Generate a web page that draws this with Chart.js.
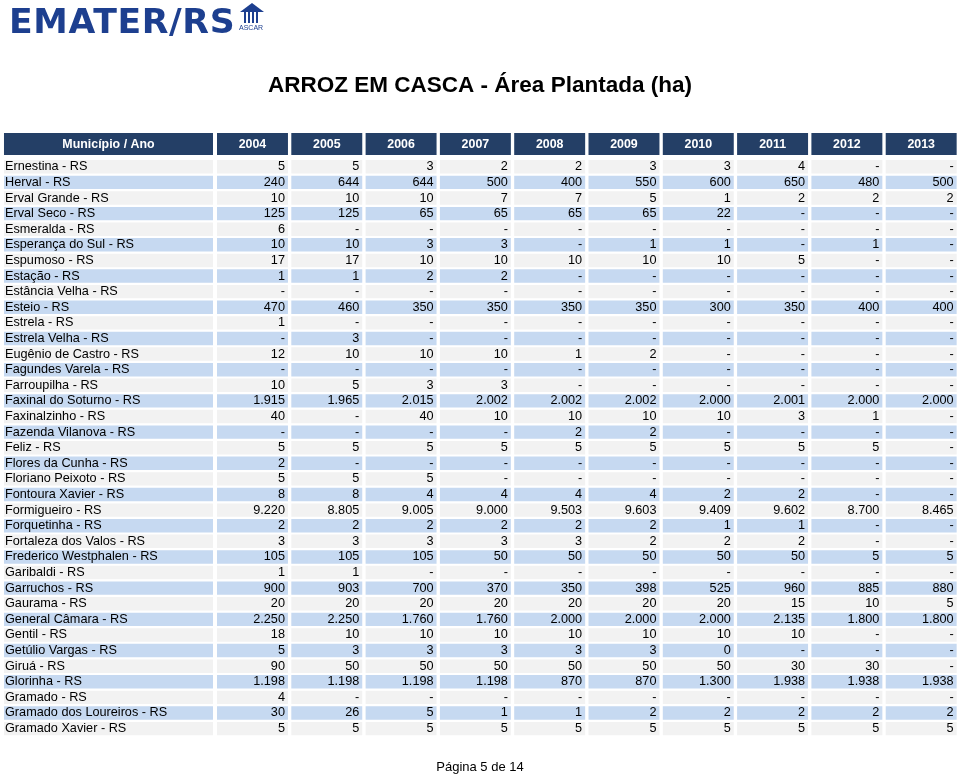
<!DOCTYPE html>
<html lang="pt-BR">
<head>
<meta charset="utf-8">
<title>ARROZ EM CASCA - Área Plantada (ha)</title>
<script src="https://cdn.jsdelivr.net/npm/chart.js@4/dist/chart.umd.min.js"></script>
<style>
  html, body { margin: 0; padding: 0; background: #ffffff; }
  #wrap { position: relative; width: 960px; height: 776px; }
  #logo {
    position: absolute; left: 9px; top: 1px;
    font-family: "DejaVu Sans", sans-serif; font-weight: bold;
    font-size: 34px; letter-spacing: 0.6px; color: #1d3f8f;
    transform: scaleX(1.02); transform-origin: left top;
  }
  #ascar {
    position: absolute; left: 239px; top: 24px;
    font-family: "Liberation Sans", sans-serif; font-size: 7px; color: #1d3f8f;
  }
  #roof {
    position: absolute; left: 240px; top: 3px; width: 0; height: 0;
    border-left: 12px solid transparent; border-right: 12px solid transparent;
    border-bottom: 9px solid #1d3f8f;
  }
  #house {
    position: absolute; left: 244px; top: 12px; width: 16px; height: 11px;
    background: repeating-linear-gradient(90deg, #1d3f8f 0 2px, #ffffff 2px 4px);
  }
</style>
</head>
<body>
<div id="wrap">
  <canvas id="chart" width="960" height="776"></canvas>
  <div id="logo">EMATER/RS</div>
  <div id="roof"></div>
  <div id="house"></div>
  <div id="ascar">ASCAR</div>
</div>
<script>
// rótulos
const tituloColuna = "Município / Ano";
const anos = ["2004", "2005", "2006", "2007", "2008", "2009", "2010", "2011", "2012", "2013"];
const municipios = [
  "Ernestina - RS", "Herval - RS", "Erval Grande - RS", "Erval Seco - RS", "Esmeralda - RS",
  "Esperança do Sul - RS", "Espumoso - RS", "Estação - RS", "Estância Velha - RS", "Esteio - RS",
  "Estrela - RS", "Estrela Velha - RS", "Eugênio de Castro - RS", "Fagundes Varela - RS", "Farroupilha - RS",
  "Faxinal do Soturno - RS", "Faxinalzinho - RS", "Fazenda Vilanova - RS", "Feliz - RS", "Flores da Cunha - RS",
  "Floriano Peixoto - RS", "Fontoura Xavier - RS", "Formigueiro - RS", "Forquetinha - RS", "Fortaleza dos Valos - RS",
  "Frederico Westphalen - RS", "Garibaldi - RS", "Garruchos - RS", "Gaurama - RS", "General Câmara - RS",
  "Gentil - RS", "Getúlio Vargas - RS", "Giruá - RS", "Glorinha - RS", "Gramado - RS",
  "Gramado dos Loureiros - RS", "Gramado Xavier - RS"
];

// área plantada (ha) por ano, null = "-"
const n = null;
const a2004 = [5, 240, 10, 125, 6, 10, 17, 1, n, 470, 1, n, 12, n, 10, 1915, 40, n, 5, 2, 5, 8, 9220, 2, 3, 105, 1, 900, 20, 2250, 18, 5, 90, 1198, 4, 30, 5];
const a2005 = [5, 644, 10, 125, n, 10, 17, 1, n, 460, n, 3, 10, n, 5, 1965, n, n, 5, n, 5, 8, 8805, 2, 3, 105, 1, 903, 20, 2250, 10, 3, 50, 1198, n, 26, 5];
const a2006 = [3, 644, 10, 65, n, 3, 10, 2, n, 350, n, n, 10, n, 3, 2015, 40, n, 5, n, 5, 4, 9005, 2, 3, 105, n, 700, 20, 1760, 10, 3, 50, 1198, n, 5, 5];
const a2007 = [2, 500, 7, 65, n, 3, 10, 2, n, 350, n, n, 10, n, 3, 2002, 10, n, 5, n, n, 4, 9000, 2, 3, 50, n, 370, 20, 1760, 10, 3, 50, 1198, n, 1, 5];
const a2008 = [2, 400, 7, 65, n, n, 10, n, n, 350, n, n, 1, n, n, 2002, 10, 2, 5, n, n, 4, 9503, 2, 3, 50, n, 350, 20, 2000, 10, 3, 50, 870, n, 1, 5];
const a2009 = [3, 550, 5, 65, n, 1, 10, n, n, 350, n, n, 2, n, n, 2002, 10, 2, 5, n, n, 4, 9603, 2, 2, 50, n, 398, 20, 2000, 10, 3, 50, 870, n, 2, 5];
const a2010 = [3, 600, 1, 22, n, 1, 10, n, n, 300, n, n, n, n, n, 2000, 10, n, 5, n, n, 2, 9409, 1, 2, 50, n, 525, 20, 2000, 10, 0, 50, 1300, n, 2, 5];
const a2011 = [4, 650, 2, n, n, n, 5, n, n, 350, n, n, n, n, n, 2001, 3, n, 5, n, n, 2, 9602, 1, 2, 50, n, 960, 15, 2135, 10, n, 30, 1938, n, 2, 5];
const a2012 = [n, 480, 2, n, n, 1, n, n, n, 400, n, n, n, n, n, 2000, 1, n, 5, n, n, n, 8700, n, n, 5, n, 885, 10, 1800, n, n, 30, 1938, n, 2, 5];
const a2013 = [n, 500, 2, n, n, n, n, n, n, 400, n, n, n, n, n, 2000, n, n, n, n, n, n, 8465, n, n, 5, n, 880, 5, 1800, n, n, n, 1938, n, 2, 5];
const valores = [a2004, a2005, a2006, a2007, a2008, a2009, a2010, a2011, a2012, a2013];

// geometria das colunas em unidades do eixo x (1 unidade = uma coluna de ano)
const NOME_INI = -2.867, NOME_FIM = -0.054, LARG = 0.955;
const AZUL_CAB = "#243f66", AZUL_LINHA = "#c6d9f1", CINZA_LINHA = "#f2f2f2";
const FONTE = "'Liberation Sans', Arial, sans-serif";

function fmt(v) {
  if (v === null) return "-";
  return String(v).replace(/\B(?=(\d{3})+(?!\d))/g, ".");
}

const corLinha = (ctx) => (ctx.dataIndex % 2 === 0 ? CINZA_LINHA : AZUL_LINHA);

const datasets = [{
  label: tituloColuna,
  data: municipios.map(() => [NOME_INI, NOME_FIM]),
  backgroundColor: corLinha
}].concat(anos.map((ano, k) => ({
  label: ano,
  data: valores[k].map(() => [k, k + LARG]),
  backgroundColor: corLinha
})));

// cabeçalho e textos das células, posicionados pelas escalas
const tabelaPlugin = {
  id: "tabela",
  afterDatasetsDraw(chart) {
    const { ctx, chartArea, scales: { x, y } } = chart;
    ctx.save();
    const topo = chartArea.top - 26, alt = 22;
    const colunas = [[NOME_INI, NOME_FIM, tituloColuna]].concat(anos.map((a, k) => [k, k + LARG, a]));
    ctx.font = "bold 12.4px " + FONTE;
    ctx.textAlign = "center";
    ctx.textBaseline = "middle";
    colunas.forEach(([ini, fim, txt]) => {
      const x0 = x.getPixelForValue(ini), x1 = x.getPixelForValue(fim);
      ctx.fillStyle = AZUL_CAB;
      ctx.fillRect(x0, topo, x1 - x0, alt);
      ctx.fillStyle = "#ffffff";
      ctx.fillText(txt, (x0 + x1) / 2, topo + alt / 2 + 1);
    });

    ctx.fillStyle = "#000000";
    ctx.font = "12.7px " + FONTE;
    municipios.forEach((nome, i) => {
      const yc = y.getPixelForValue(i);
      ctx.textAlign = "left";
      ctx.fillText(nome, x.getPixelForValue(NOME_INI) + 1, yc);
      ctx.textAlign = "right";
      valores.forEach((serie, k) => {
        ctx.fillText(fmt(serie[i]), x.getPixelForValue(k + LARG) - 3, yc);
      });
    });
    ctx.restore();
  }
};

new Chart(document.getElementById("chart"), {
  type: "bar",
  data: { labels: municipios, datasets: datasets },
  options: {
    indexAxis: "y",
    responsive: false,
    animation: false,
    datasets: { bar: { grouped: false, categoryPercentage: 0.86, barPercentage: 1 } },
    layout: { padding: 0 },
    scales: {
      x: { type: "linear", min: -2.9206, max: 10.0, display: false },
      y: { type: "category", display: false }
    },
    plugins: {
      legend: { display: false },
      tooltip: { enabled: false },
      title: {
        display: true,
        text: "ARROZ EM CASCA - Área Plantada (ha)",
        color: "#000000",
        font: { family: FONTE, size: 22.5, weight: "bold", lineHeight: 1.2 },
        padding: { top: 72, bottom: 60 }
      },
      subtitle: {
        display: true,
        position: "bottom",
        text: "Página 5 de 14",
        color: "#000000",
        font: { family: FONTE, size: 13, weight: "normal", lineHeight: 1.2 },
        padding: { top: 23, bottom: 1 }
      }
    }
  },
  plugins: [tabelaPlugin]
});
</script>
</body>
</html>
